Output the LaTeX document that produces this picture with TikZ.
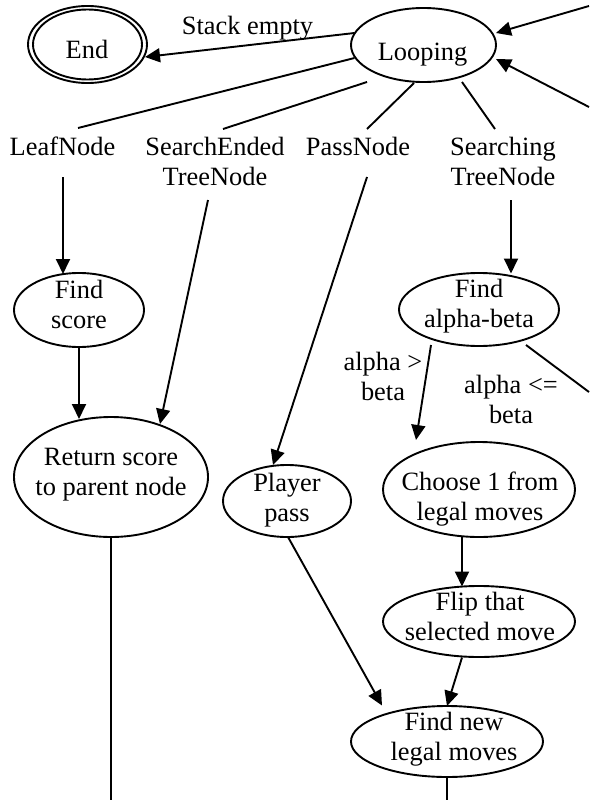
\documentclass[tikz,border=0pt]{standalone}
\usepackage{fontspec}
\setmainfont{Liberation Serif}
\usetikzlibrary{shapes.geometric,arrows.meta}
\newcommand{\mytop}{\rule{0pt}{19pt}}
\newcommand{\mybot}{\rule[-7pt]{0pt}{0pt}}
\begin{document}
\begin{tikzpicture}[x=1pt,y=-1pt,
  ell/.style={draw, ellipse, line width=1.9pt, inner sep=0pt, outer sep=0pt},
  txt/.style={inner sep=0pt, outer sep=0pt, align=center, font=\fontsize{26.4}{30}\selectfont},
  edge/.style={line width=1.9pt},
  arr/.style={edge, -{Triangle[length=15pt,width=14pt]}}]
\useasboundingbox (0,0) rectangle (589,800);

% nodes
\node[ell, minimum width=119pt, minimum height=77pt] (end) at (87.5,44.5) {};
\node[ell, minimum width=109pt, minimum height=70pt] (endin) at (87.5,44.5) {};
\node[txt] (endt) at (87,53) {\mytop End\mybot};
\node[ell, minimum width=145pt, minimum height=74pt] (loop) at (423.5,45) {};
\node[txt] (loopt) at (422.5,54) {\mytop Looping\mybot};
\node[txt] (stack) at (247.5,29) {\mytop Stack empty\mybot};
\node[txt] (leaf) at (62.5,149) {\mytop LeafNode\mybot};
\node[txt] (sended) at (215,164) {\mytop SearchEnded\\TreeNode\mybot};
\node[txt] (pass) at (358,149) {\mytop PassNode\mybot};
\node[txt] (searching) at (503,164) {\mytop Searching\\TreeNode\mybot};
\node[ell, minimum width=130pt, minimum height=74pt] (fscore) at (79,310) {};
\node[txt] (fscoret) at (79,307) {\mytop Find\\score\mybot};
\node[ell, minimum width=194pt, minimum height=120pt] (ret) at (111,477) {};
\node[txt] (rett) at (111,474) {\mytop Return score\\to parent node\mybot};
\node[ell, minimum width=128pt, minimum height=72pt] (player) at (287,501) {};
\node[txt] (playert) at (287,500) {\mytop Player\\pass\mybot};
\node[ell, minimum width=160pt, minimum height=73pt] (fab) at (479,309.5) {};
\node[txt] (fabt) at (479,306) {\mytop Find\\alpha-beta\mybot};
\node[txt] (agt) at (383,379) {\mytop alpha >\\beta\mybot};
\node[txt] (ale) at (511,402) {\mytop alpha <=\\beta\mybot};
\node[ell, minimum width=192pt, minimum height=95pt] (choose) at (479,489.5) {};
\node[txt] (chooset) at (480,499) {\mytop Choose 1 from\\legal moves\mybot};
\node[ell, minimum width=192pt, minimum height=71pt] (flip) at (479,621.5) {};
\node[txt] (flipt) at (480,619) {\mytop Flip that\\selected move\mybot};
\node[ell, minimum width=192pt, minimum height=71pt] (fnew) at (447,741.5) {};
\node[txt] (fnewt) at (454,739) {\mytop Find new\\legal moves\mybot};

% free ends
\coordinate (c1) at (589,6);
\coordinate (c2) at (589,107);
\coordinate (c3) at (589,392);
\coordinate (b1) at (111,800);
\coordinate (b2) at (447,800);

% edges
\draw[arr] ([shift={(-69,-12)}]loop.center) -- ([shift={(57.5,12.5)}]end.center);
\draw[edge] ([shift={(-69,13)}]loop.center) -- ([shift={(15.5,-21)}]leaf.center);
\draw[edge] ([shift={(-56.5,37)}]loop.center) -- ([shift={(8,-35)}]sended.center);
\draw[edge] ([shift={(-9.5,38)}]loop.center) -- ([shift={(9,-20)}]pass.center);
\draw[edge] ([shift={(38.5,37)}]loop.center) -- ([shift={(-8,-35)}]searching.center);
\draw[arr] (c1) -- ([shift={(72.5,-12)}]loop.center);
\draw[arr] (c2) -- ([shift={(72.5,14)}]loop.center);
\draw[arr] ([shift={(0.5,28)}]leaf.center) -- ([shift={(-16,-36)}]fscore.center);
\draw[arr] ([shift={(0,37)}]fscore.center) -- ([shift={(-32,-58)}]ret.center);
\draw[arr] ([shift={(-7,36)}]sended.center) -- ([shift={(49,-53)}]ret.center);
\draw[edge] ([shift={(0,60)}]ret.center) -- (b1);
\draw[arr] ([shift={(9,28)}]pass.center) -- ([shift={(-14,-36)}]player.center);
\draw[arr] ([shift={(1,36)}]player.center) -- ([shift={(-65,-36)}]fnew.center);
\draw[arr] ([shift={(8,36)}]searching.center) -- ([shift={(32,-36)}]fab.center);
\draw[arr] ([shift={(-48,35.5)}]fab.center) -- ([shift={(-63,-49.5)}]choose.center);
\draw[edge] ([shift={(47,35.5)}]fab.center) -- (c3);
\draw[arr] ([shift={(-17,47.5)}]choose.center) -- ([shift={(-17,-35)}]flip.center);
\draw[arr] ([shift={(-17,36)}]flip.center) -- ([shift={(0,-35.5)}]fnew.center);
\draw[edge] ([shift={(0,35.5)}]fnew.center) -- (b2);
\end{tikzpicture}
\end{document}
